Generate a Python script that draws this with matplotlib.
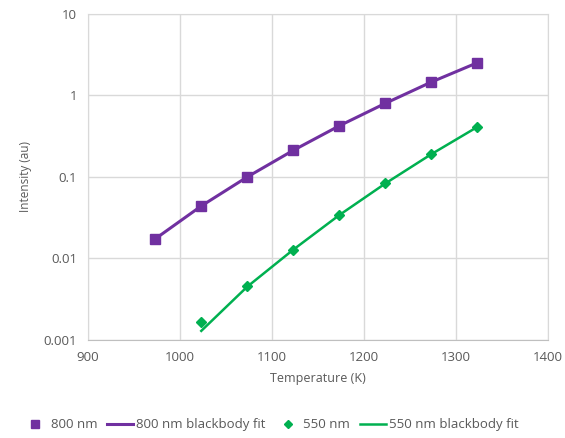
import matplotlib.pyplot as plt
from matplotlib.ticker import FixedLocator, FixedFormatter, NullLocator

plt.rcParams['font.family'] = ['Open Sans', 'DejaVu Sans']

# Temperatures (K)
temp_800 = [973, 1023, 1073, 1123, 1173, 1223, 1273, 1323]
temp_550 = [1023, 1073, 1123, 1173, 1223, 1273, 1323]

# Measured intensities (au)
int_800 = [0.0174, 0.044, 0.100, 0.214, 0.426, 0.80, 1.48, 2.52]
int_550 = [0.00168, 0.0046, 0.0127, 0.0342, 0.0837, 0.190, 0.414]

# Blackbody fits
fit_800 = [0.0174, 0.044, 0.100, 0.212, 0.424, 0.80, 1.46, 2.52]
fit_550 = [0.00129, 0.0045, 0.0128, 0.0340, 0.0830, 0.190, 0.410]

yticks = [0.001, 0.01, 0.1, 1, 10]
ytick_labels = ["0.001", "0.01", "0.1", "1", "10"]
xticks = [900, 1000, 1100, 1200, 1300, 1400]

PURPLE = "#7030A0"
GREEN = "#00B050"
TEXT = "#595959"
GRID = "#D9D9D9"

fig = plt.figure(figsize=(5.65, 4.38), dpi=100)
ax = fig.add_axes([0.156, 0.224, 0.814, 0.744])

ax.plot(temp_800, int_800, linestyle="none", marker="s", markersize=6.5,
        color=PURPLE, label="800 nm", zorder=4)
ax.plot(temp_800, fit_800, color=PURPLE, linewidth=2.2,
        label="800 nm blackbody fit", zorder=3)
ax.plot(temp_550, int_550, linestyle="none", marker="D", markersize=5,
        color=GREEN, label="550 nm", zorder=4)
ax.plot(temp_550, fit_550, color=GREEN, linewidth=1.8,
        label="550 nm blackbody fit", zorder=3)

ax.set_yscale("log")
ax.set_ylim(0.001, 10)
ax.set_xlim(900, 1400)
ax.yaxis.set_major_locator(FixedLocator(yticks))
ax.yaxis.set_major_formatter(FixedFormatter(ytick_labels))
ax.yaxis.set_minor_locator(NullLocator())
ax.set_xticks(xticks)

ax.grid(True, color=GRID, linewidth=1)
ax.set_axisbelow(True)
for side in ["left", "right", "top"]:
    ax.spines[side].set_color(GRID)
ax.spines["bottom"].set_color("#BFBFBF")
ax.tick_params(length=0, labelsize=9.5, labelcolor=TEXT, pad=8)

ax.set_xlabel("Temperature (K)", fontsize=9, color=TEXT, labelpad=6)
ax.set_ylabel("Intensity (au)", fontsize=8.5, color=TEXT, labelpad=8)

fig.legend(loc="lower center", bbox_to_anchor=(0.478, -0.012), ncol=4,
           frameon=False, fontsize=9.5, labelcolor=TEXT, handlelength=2.0,
           handletextpad=0.2, columnspacing=0.7, markerscale=0.85)

fig.savefig("out.png", dpi=100)
